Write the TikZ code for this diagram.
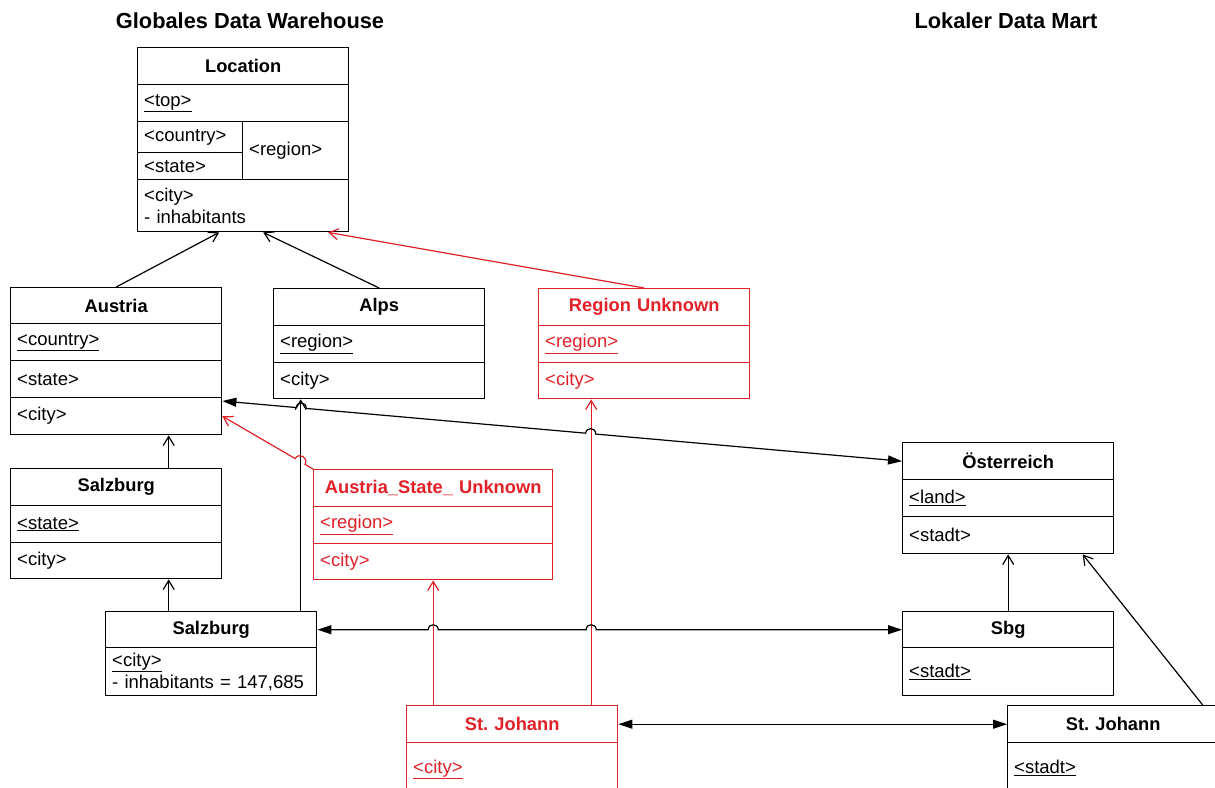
\documentclass[tikz,border=0pt]{standalone}
\usepackage{fontspec}
\setmainfont{Liberation Sans}
\usetikzlibrary{arrows.meta,calc}
\definecolor{myred}{RGB}{226,32,40}
\newcommand\bodyf{\fontsize{18.5}{22}\selectfont}
\newcommand\headf{\fontsize{18.3}{22}\selectfont\bfseries}
\newcommand\bigf{\fontsize{21.8}{26}\selectfont\bfseries}
\frenchspacing
\begin{document}
\begin{tikzpicture}[x=1pt,y=-1pt,
 row/.style={draw, line width=1.4pt, anchor=north west, inner xsep=6.5pt, inner ysep=0pt, minimum width=211pt, text width=198pt, align=left, font=\bodyf},
 hd/.style={row, align=center, font=\headf},
 rd/.style={draw=myred, text=myred},
 conn/.style={line width=1.2pt},
 openarrow/.style={-{Straight Barb[length=9pt,width=11pt]}},
 dblarrow/.style={{Triangle[length=14pt,width=9pt]}-{Triangle[length=14pt,width=9pt]}},
 hop/.style={bend left=90, looseness=1.7},
 hopr/.style={bend right=90, looseness=1.7},
 heading/.style={font=\bigf}
]
\clip (0,0) rectangle (1215,787);
\fill[white] (0,0) rectangle (1215,787);

% headings
\node[heading] (h1) at (250,21) {Globales Data Warehouse};
\node[heading] (h2) at (1006,21) {Lokaler Data Mart};

% Location
\node[hd, minimum height=37pt] (loc) at (137,47) {Location};
\node[row, minimum height=37pt] (loctop) at (137,84) {\underline{<top>}};
\node[row, minimum width=105pt, text width=92pt, minimum height=31pt] (loccty) at (137,121) {<country>};
\node[row, minimum width=105pt, text width=92pt, minimum height=27pt] (locst) at (137,152) {<state>};
\node[row, minimum width=106pt, text width=93pt, minimum height=58pt] (locreg) at (242,121) {<region>};
\node[row, minimum height=52pt] (loccity) at (137,179) {<city>\\- inhabitants};

% Austria
\node[hd, minimum height=36pt] (aut) at (10,287) {Austria};
\node[row, minimum height=37pt] (autcty) at (10,323) {\underline{<country>}};
\node[row, minimum height=37pt] (autst) at (10,360) {<state>};
\node[row, minimum height=37pt] (autcity) at (10,397) {<city>};

% Alps
\node[hd, minimum height=37pt] (alps) at (273,288) {Alps};
\node[row, minimum height=37pt] (alpsreg) at (273,325) {\underline{<region>}};
\node[row, minimum height=36pt] (alpscity) at (273,362) {<city>};

% Region Unknown
\node[hd, rd, minimum height=37pt] (ru) at (538,288) {Region Unknown};
\node[row, rd, minimum height=37pt] (rureg) at (538,325) {\underline{<region>}};
\node[row, rd, minimum height=36pt] (rucity) at (538,362) {<city>};

% Salzburg (state)
\node[hd, minimum height=37pt] (salst) at (10,468) {Salzburg};
\node[row, minimum height=37pt] (salststate) at (10,505) {\underline{<state>}};
\node[row, minimum height=36pt] (salstcity) at (10,542) {<city>};

% Salzburg (city)
\node[hd, minimum height=36pt] (salc) at (105,611) {Salzburg};
\node[row, minimum height=48pt] (salccity) at (105,647) {\underline{<city>}\\- inhabitants = 147,685};

% Austria_State_Unknown
\node[hd, rd, minimum width=239pt, text width=226pt, minimum height=37pt] (asu) at (313,469) {Austria\_State\_ Unknown};
\node[row, rd, minimum width=239pt, text width=226pt, minimum height=37pt] (asureg) at (313,506) {\underline{<region>}};
\node[row, rd, minimum width=239pt, text width=226pt, minimum height=36pt] (asucity) at (313,543) {<city>};

% St. Johann (red)
\node[hd, rd, minimum height=37pt] (sjr) at (406,705) {St. Johann};
\node[row, rd, minimum height=58pt, anchor=north west] (sjrcity) at (406,742) {\raisebox{10pt}{\underline{<city>}}};

% Oesterreich
\node[hd, minimum height=37pt] (oe) at (902,442) {Österreich};
\node[row, minimum height=37pt] (oeland) at (902,479) {\underline{<land>}};
\node[row, minimum height=37pt] (oestadt) at (902,516) {<stadt>};

% Sbg
\node[hd, minimum height=36pt] (sbg) at (902,611) {Sbg};
\node[row, minimum height=48pt] (sbgstadt) at (902,647) {\underline{<stadt>}};

% St. Johann (right)
\node[hd, minimum height=37pt] (sjl) at (1007,705) {St. Johann};
\node[row, minimum height=58pt] (sjlstadt) at (1007,742) {\raisebox{10pt}{\underline{<stadt>}}};

% connectors: generalisation arrows
\draw[conn, openarrow] (aut.north) -- ([xshift=-24pt]loccity.south);
\draw[conn, openarrow] (alps.north) -- ([xshift=20pt]loccity.south);
\draw[conn, openarrow, myred] (ru.north) -- ([xshift=85pt]loccity.south);
\draw[conn, openarrow] ([xshift=52.5pt]salst.north) -- ([xshift=52.5pt]autcity.south);
\draw[conn, openarrow] ([xshift=-42.5pt]salc.north) -- ([xshift=52.5pt]salstcity.south);
\draw[conn, openarrow] ([xshift=89.5pt]salc.north) -- ([xshift=-78.5pt]alpscity.south);
\draw[conn, openarrow] (sbg.north) -- (oestadt.south);
\draw[conn, openarrow] ([xshift=89.5pt]sjl.north) -- ([xshift=74.5pt]oestadt.south);

\coordinate (v1b) at ([xshift=-79pt]sjr.north);
\coordinate (v2b) at ([xshift=79pt]sjr.north);
\draw[conn, myred, openarrow] (v1b) -- (asucity.south);
\draw[conn, myred, openarrow] (v2b) -- (v2b |- rucity.south);

% red ASU -> Austria with hop
\coordinate (rA) at (asu.north west);
\coordinate (rB) at (autcity.east);
\draw[conn, myred, openarrow] (rA) -- ($(rA)!0.0879!(rB)$) to[hopr] ($(rA)!0.1978!(rB)$) -- (rB);

% Austria <-> Oesterreich with hops
\coordinate (bA) at ([yshift=-4pt]autcity.north east);
\coordinate (bB) at (oe.west);
\draw[conn, dblarrow] (bA) -- ($(bA)!0.1087!(bB)$) to[hop] ($(bA)!0.1233!(bB)$) -- ($(bA)!0.5345!(bB)$) to[hop] ($(bA)!0.5492!(bB)$) -- (bB);

% Salzburg <-> Sbg with hops
\draw[conn, dblarrow] (salc.east) -- ($(salc.east -| v1b)+(-5,0)$) to[hop] ($(salc.east -| v1b)+(5,0)$) -- ($(salc.east -| v2b)+(-5,0)$) to[hop] ($(salc.east -| v2b)+(5,0)$) -- (sbg.west);

% St. Johann <-> St. Johann
\draw[conn, dblarrow] (sjr.east) -- (sjl.west);
\end{tikzpicture}
\end{document}
